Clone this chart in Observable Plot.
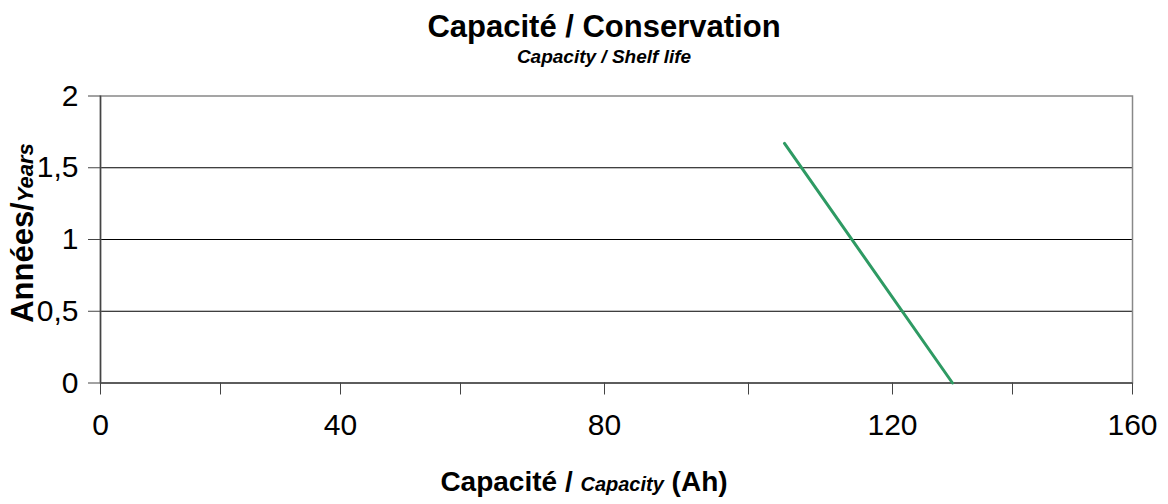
<!DOCTYPE html>
<html>
<head>
<meta charset="utf-8">
<script src="https://cdn.jsdelivr.net/npm/d3@7"></script>
<script src="https://cdn.jsdelivr.net/npm/@observablehq/plot@0.6"></script>
<style>
  html, body { margin: 0; padding: 0; background: #fff; }
  #wrap { position: relative; width: 1168px; height: 504px; overflow: hidden; font-family: "Liberation Sans", Arial, sans-serif; color: #000; }
  #title { position: absolute; left: 40px; top: 11px; width: 1128px; text-align: center; font-weight: bold; font-size: 31px; line-height: 31px; }
  #subtitle { position: absolute; left: 40px; top: 47px; width: 1128px; text-align: center; font-weight: bold; font-style: italic; font-size: 19px; line-height: 19px; }
  #chart { position: absolute; left: 0; top: 70px; }
  #xlabel { position: absolute; left: 0; top: 467px; width: 1168px; text-align: center; font-weight: bold; font-size: 28px; line-height: 30px; }
  #xlabel i { font-size: 20px; }
</style>
</head>
<body>
<div id="wrap">
  <div id="title">Capacité / Conservation</div>
  <div id="subtitle">Capacity / Shelf life</div>
  <div id="chart"></div>
  <div id="xlabel">Capacité / <i>Capacity</i> (Ah)</div>
</div>
<script>
const capacity = [105, 130];
const years = [1.67, 0];
const xTicks = [0, 20, 40, 60, 80, 100, 120, 140, 160];
const xLabels = [0, 40, 80, 120, 160];
const yTicks = [0, 0.5, 1, 1.5, 2];
const yGrid = [0.5, 1, 1.5];
const lineColor = "#2e9a63";

const data = capacity.map((c, i) => ({capacity: c, years: years[i]}));

const svg = Plot.plot({
  width: 1168,
  height: 380,
  marginTop: 25.5,
  marginBottom: 67.5,
  marginLeft: 100,
  marginRight: 36,
  style: {fontFamily: "'Liberation Sans', Arial, sans-serif", fontSize: "30px", color: "#000", background: "white"},
  x: {type: "linear", domain: [0, 60, 120, 160], range: [100, 460, 892, 1132]},
  y: {type: "linear", domain: [0, 2]},
  marks: [
    Plot.ruleY(yGrid, {stroke: "#000", strokeWidth: 1}),
    Plot.frame({stroke: "#888", strokeWidth: 1.5}),
    Plot.ruleX([0], {stroke: "#444", strokeWidth: 1.5}),
    Plot.ruleY([0], {stroke: "#444", strokeWidth: 1.5}),
    Plot.axisX({ticks: xTicks, tickFormat: d => xLabels.includes(d) ? String(d) : "", tickSize: 12, tickPadding: 19, label: null, stroke: "#444"}),
    Plot.axisY({ticks: yTicks, tickFormat: d => String(d).replace(".", ","), tickSize: 12, tickPadding: 10, label: null, stroke: "#444"}),
    Plot.line(data, {x: "capacity", y: "years", stroke: lineColor, strokeWidth: 3})
  ]
});

const s = d3.select(svg);
const yl = s.append("text")
  .attr("transform", "translate(33, 163) rotate(-90)")
  .attr("text-anchor", "middle")
  .attr("font-family", "'Liberation Sans', Arial, sans-serif")
  .attr("font-weight", "bold")
  .attr("fill", "#000");
yl.append("tspan").attr("font-size", "31px").text("Années/");
yl.append("tspan").attr("font-size", "22px").attr("font-style", "italic").text("Years");

document.getElementById("chart").appendChild(svg);
</script>
</body>
</html>
